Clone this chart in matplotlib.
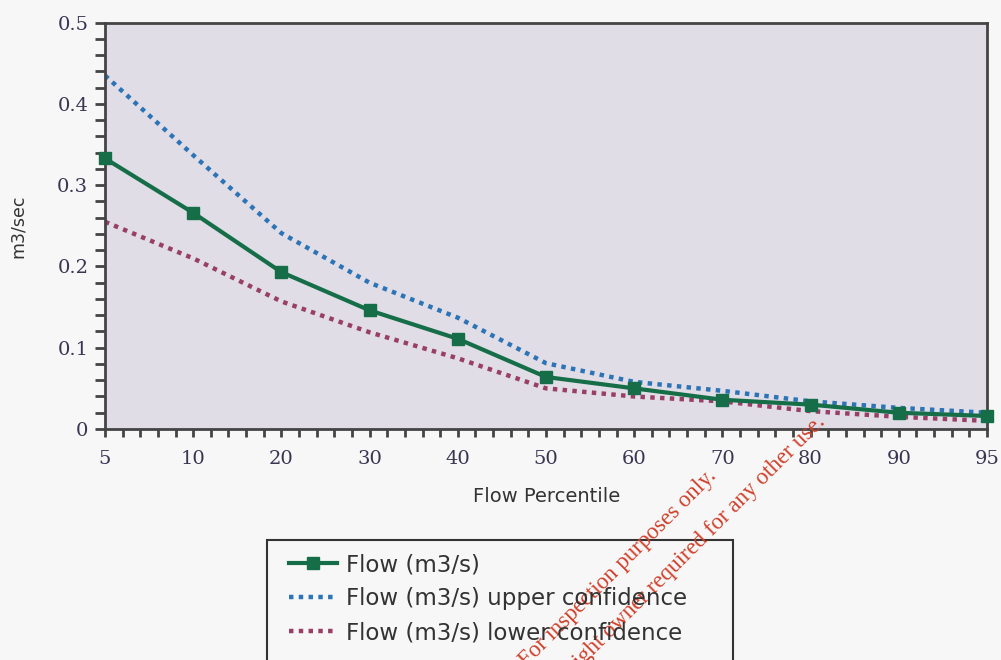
import matplotlib
matplotlib.use("Agg")
import matplotlib.pyplot as plt
from matplotlib.patches import Rectangle
from matplotlib.ticker import MultipleLocator

# flow duration data
percentiles = ["5", "10", "20", "30", "40", "50", "60", "70", "80", "90", "95"]
flow = [0.333, 0.266, 0.193, 0.146, 0.111, 0.064, 0.050, 0.036, 0.030, 0.020, 0.016]
flow_upper = [0.435, 0.337, 0.241, 0.180, 0.137, 0.081, 0.058, 0.047, 0.034, 0.026, 0.020]
flow_lower = [0.255, 0.210, 0.157, 0.119, 0.087, 0.050, 0.040, 0.034, 0.022, 0.015, 0.010]

green = "#156e48"
blue = "#2c74b5"
maroon = "#993f66"

fig = plt.figure(figsize=(10.01, 6.6), dpi=100, facecolor="#f7f7f7")
ax = fig.add_axes([105/1001, 1-429/660, (987-105)/1001, (429-22.7)/660])
ax.set_facecolor("#e0dde7")

x = list(range(len(percentiles)))
up, = ax.plot(x, flow_upper, color=blue, lw=3.2, ls=(0, (1, 1.2)), zorder=2,
              label="Flow (m3/s) upper confidence")
lo, = ax.plot(x, flow_lower, color=maroon, lw=3.2, ls=(0, (1, 1.2)), zorder=2,
              label="Flow (m3/s) lower confidence")
fl, = ax.plot(x, flow, color=green, lw=3, marker="s", ms=9, zorder=3,
              clip_on=False, label="Flow (m3/s)")

ax.set_xlim(0, len(percentiles)-1)
ax.set_ylim(0, 0.5)
ax.set_xticks(x)
ax.set_xticklabels(percentiles)
ax.xaxis.set_minor_locator(MultipleLocator(0.2))
ax.set_yticks([0, 0.1, 0.2, 0.3, 0.4, 0.5])
ax.set_yticklabels(["0", "0.1", "0.2", "0.3", "0.4", "0.5"])
ax.yaxis.set_minor_locator(MultipleLocator(0.02))

for s in ax.spines.values():
    s.set_color("#444444")
    s.set_linewidth(2)

lab_color = "#3a3552"
ax.tick_params(axis="x", which="both", direction="out", length=6, width=2,
               color="#444444", pad=9, labelsize=14, labelcolor=lab_color)
ax.tick_params(axis="y", which="both", direction="out", length=7, width=2,
               color="#444444", pad=5, labelsize=14, labelcolor=lab_color)
for t in ax.get_xticklabels() + ax.get_yticklabels():
    t.set_family("DejaVu Serif")

fig.text(18/1001, 1-226/660, "m3/sec", rotation=90, ha="center", va="center",
         fontsize=12.5, color="#333333", family="DejaVu Sans")
fig.text(547/1001, 1-496/660, "Flow Percentile", ha="center", va="center",
         fontsize=14, color="#333333", family="DejaVu Sans")

# legend box runs off the bottom of the picture
fig.patches.append(Rectangle((267/1001, -0.05), (733-267)/1001, 0.05+1-540/660,
                             transform=fig.transFigure, fill=False,
                             edgecolor="#333333", lw=1.5))
leg = fig.legend([fl, up, lo],
                 ["Flow (m3/s)", "Flow (m3/s) upper confidence",
                  "Flow (m3/s) lower confidence"],
                 loc="upper left", bbox_to_anchor=(289/1001, 1-553/660),
                 frameon=False, handlelength=2.1, handletextpad=0.38,
                 labelspacing=0.48, borderaxespad=0, borderpad=0,
                 prop={"family": "DejaVu Sans", "size": 16.5})
for t in leg.get_texts():
    t.set_color("#333333")

# watermark
wm = dict(rotation=45, rotation_mode="anchor", ha="right", va="baseline",
          color="#d0402a", fontsize=16.5, family="Liberation Serif")
fig.text(717/1001, 1-477/660, "For inspection purposes only.", **wm)
fig.text(826/1001, 1-423/660, "Consent of copyright owner required for any other use.", **wm)

fig.savefig("out.png", dpi=100, facecolor=fig.get_facecolor())
